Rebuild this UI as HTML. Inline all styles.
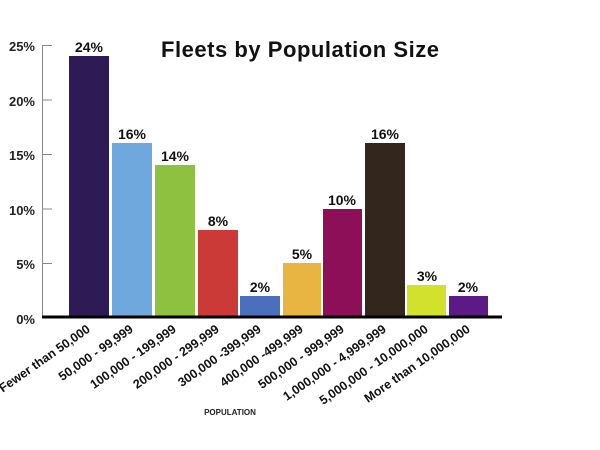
<!DOCTYPE html>
<html><head><style>body{margin:0;background:#fff}svg{display:block}text{font-family:"Liberation Sans",sans-serif;font-weight:bold}</style></head>
<body>
<svg width="600" height="450" viewBox="0 0 600 450">
<text x="300" y="57" font-size="22" text-anchor="middle" fill="#111" textLength="278">Fleets by Population Size</text>
<line x1="42.5" y1="45" x2="42.5" y2="318" stroke="#888" stroke-width="1"/>
<g stroke="#888"><line x1="42" y1="45.5" x2="52" y2="45.5"/><line x1="42" y1="100" x2="52" y2="100"/><line x1="42" y1="154.5" x2="52" y2="154.5"/><line x1="42" y1="209" x2="52" y2="209"/><line x1="42" y1="263.5" x2="52" y2="263.5"/></g>
<g font-size="13" text-anchor="end" fill="#222">
<text x="35" y="51">25%</text><text x="35" y="106">20%</text><text x="35" y="160">15%</text><text x="35" y="215">10%</text><text x="35" y="269">5%</text><text x="35" y="324">0%</text></g>
<g>
<rect x="69" y="56" width="40" height="262" fill="#2e1a55"/>
<rect x="112" y="143" width="40" height="175" fill="#6fa8dc"/>
<rect x="155" y="165" width="40" height="153" fill="#8dc13f"/>
<rect x="198" y="230" width="40" height="88" fill="#cc3a38"/>
<rect x="240" y="296" width="40" height="22" fill="#4a6fbd"/>
<rect x="283" y="263" width="38" height="55" fill="#e8b543"/>
<rect x="323" y="209" width="39" height="109" fill="#8c0f57"/>
<rect x="365" y="143" width="40" height="175" fill="#33261d"/>
<rect x="407" y="285" width="39" height="33" fill="#d2e22c"/>
<rect x="449" y="296" width="39" height="22" fill="#5d1986"/>
</g>
<line x1="42" y1="317" x2="502" y2="317" stroke="#000" stroke-width="3"/>
<g font-size="14" text-anchor="middle" fill="#111">
<text x="89" y="52">24%</text><text x="132" y="139">16%</text><text x="175" y="161">14%</text><text x="218" y="226">8%</text><text x="260" y="292">2%</text><text x="302" y="259">5%</text><text x="342" y="205">10%</text><text x="385" y="139">16%</text><text x="427" y="281">3%</text><text x="468" y="292">2%</text></g>
<g font-size="12.5" text-anchor="end" fill="#111">
<text transform="translate(91,331) rotate(-35)">Fewer than 50,000</text>
<text transform="translate(134,331) rotate(-35)">50,000 - 99,999</text>
<text transform="translate(177,331) rotate(-35)">100,000 - 199,999</text>
<text transform="translate(220,331) rotate(-35)">200,000 - 299,999</text>
<text transform="translate(262,331) rotate(-35)">300,000 -399,999</text>
<text transform="translate(304,331) rotate(-35)">400,000 -499,999</text>
<text transform="translate(345,331) rotate(-35)">500,000 - 999,999</text>
<text transform="translate(387,331) rotate(-35)">1,000,000 - 4,999,999</text>
<text transform="translate(429,331) rotate(-35)">5,000,000 - 10,000,000</text>
<text transform="translate(471,331) rotate(-35)">More than 10,000,000</text>
</g>
<text x="230" y="415" font-size="8" text-anchor="middle" fill="#222">POPULATION</text>
</svg>
</body></html>
